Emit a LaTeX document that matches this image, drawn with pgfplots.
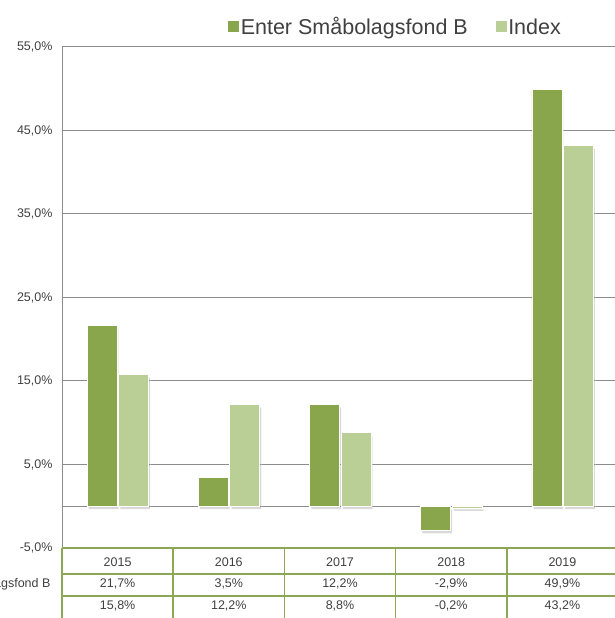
\documentclass[border=0pt]{standalone}
\usepackage{pgfplots}
\pgfplotsset{compat=1.18}
\usepackage{fontspec}
\setmainfont{Liberation Sans}
\usetikzlibrary{shadows}
\definecolor{dk}{RGB}{138,166,76}
\definecolor{lt}{RGB}{185,207,150}
\definecolor{tl}{RGB}{140,168,84}
\definecolor{txt}{RGB}{64,64,64}
\definecolor{gr}{RGB}{140,140,140}
\begin{document}
\begin{tikzpicture}[x=1pt,y=1pt]
\useasboundingbox (0,0) rectangle (614,618);
\begin{axis}[
 at={(62pt,70pt)}, anchor=south west,
 scale only axis, width=556pt, height=501pt,
 xmin=-0.5, xmax=4.5, ymin=-5, ymax=55,
 axis line style={draw=none},
 xtick=\empty,
 ytick={-5,5,...,55},
 yticklabels={{-5,0\%},{5,0\%},{15,0\%},{25,0\%},{35,0\%},{45,0\%},{55,0\%}},
 extra y ticks={0}, extra y tick labels={},
 ymajorgrids, grid style={gr, line width=1pt},
 major tick length=0pt,
 yticklabel style={font=\fontsize{12.5}{14}\selectfont, text=txt, xshift=-6pt},
 ybar, bar width=30pt,
 clip=false,
 legend columns=2,
 legend style={at={(0.600,1.034)}, anchor=center, draw=none, fill=none,
   font=\fontsize{21.5}{24}\selectfont, text=txt,
   nodes={text depth=0.25em, text height=0.75em},
   /tikz/every even column/.append style={column sep=26pt}},
]
\addlegendimage{legend image code/.code={\fill[dk] (-3pt,0pt) rectangle (7pt,10pt);}}
\addlegendentry{Enter Småbolagsfond B}
\addlegendimage{legend image code/.code={\fill[lt] (-3pt,0pt) rectangle (7pt,10pt);}}
\addlegendentry{Index}
\addplot[forget plot, fill=dk, draw=white, line width=0.8pt, bar shift=-15.5pt,
  drop shadow={opacity=0.3, shadow xshift=1.5pt, shadow yshift=-3pt}]
  coordinates {(0,21.7) (1,3.5) (2,12.2) (3,-2.9) (4,49.9)};
\addplot[forget plot, fill=lt, draw=white, line width=0.8pt, bar shift=16pt,
  drop shadow={opacity=0.3, shadow xshift=1.5pt, shadow yshift=-3pt}]
  coordinates {(0,15.8) (1,12.2) (2,8.8) (3,-0.2) (4,43.2)};
\end{axis}
\draw[gr, line width=1pt] (62,70) -- (62,571);
\begin{scope}[tl, line width=1.5pt]
\draw (62,70) -- (618,70);
\draw (62,44) -- (618,44);
\draw (62,22) -- (618,22);
\foreach \x in {62,173.2,284.4,395.6,506.8} \draw (\x,0) -- (\x,70);
\end{scope}
\begin{scope}[every node/.style={font=\fontsize{12.5}{14}\selectfont, text=txt}]
\node at (117.6,56) {2015};
\node at (228.8,56) {2016};
\node at (340,56) {2017};
\node at (451.2,56) {2018};
\node at (562.4,56) {2019};
\node[anchor=east] at (54,34) {Enter Småbolagsfond B};
\node at (117.6,34) {21,7\%};
\node at (228.8,34) {3,5\%};
\node at (340,34) {12,2\%};
\node at (451.2,34) {-2,9\%};
\node at (562.4,34) {49,9\%};
\node at (117.6,12) {15,8\%};
\node at (228.8,12) {12,2\%};
\node at (340,12) {8,8\%};
\node at (451.2,12) {-0,2\%};
\node at (562.4,12) {43,2\%};
\end{scope}
\end{tikzpicture}
\end{document}
